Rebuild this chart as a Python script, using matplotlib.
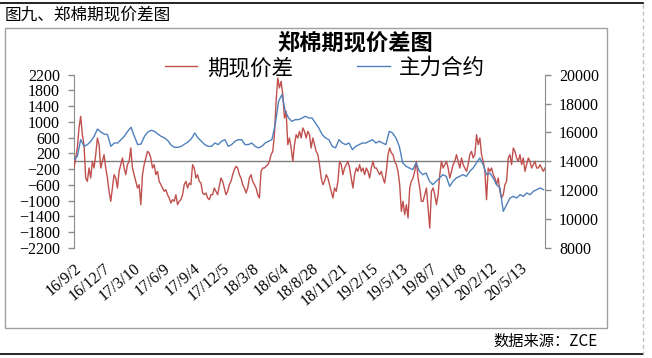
import numpy as np
import matplotlib
matplotlib.use('Agg')
from matplotlib import pyplot as plt
from matplotlib.lines import Line2D
from matplotlib.patches import Rectangle

plt.rcParams['font.family'] = ['Noto Sans CJK SC', 'DejaVu Sans']

# 期现价差 (left axis)
spread = [
    -169, 85, 339, 847, 1143, 677, 424, -423, -507, -169, -423, 0, -169, 170, 593, 424,
    -169, 0, 170, -169, -423, -761, -1015, -677, -338, -423, -677, -254, -84, 85, -169,
    -338, -84, 0, 339, -169, -338, -507, -677, -592, -1100, -338, -84, 85, 254, 212, 85,
    -169, -84, -338, -254, -507, -592, -677, -761, -719, -846, -931, -1058, -973, -1015,
    -846, -1100, -1015, -973, -846, -592, -507, -677, -550, -592, -84, -169, -423, -338,
    -507, -550, -804, -846, -804, -931, -973, -846, -846, -677, -761, -846, -634, -423,
    -507, -677, -846, -761, -592, -507, -338, -211, -127, -169, -338, -423, -592, -677,
    -804, -677, -423, -338, -507, -592, -677, -846, -931, -254, -169, -169, -127, -84, 0,
    170, 254, 677, 1524, 2116, 1862, 2031, 1693, 1101, 1270, 424, 593, 339, 0, 424, 677,
    593, 762, 593, 847, 762,
    593, 762, 677, 339, 593, 424, 254, 170, -84, -423, -592, -507, -338, -423, -592, -761,
    -931, -677, -761, -507, 0, -84, -338, -169, -84, 0, -169, -423, -677, -338, -169, -254,
    -84, -254, -169, -338, -169, -254, -423, -169, 0, -169, -169, -254, -338, -254, -423,
    -550, -254, 170, 339, 212, 170, 0, -84, -254, -592, -1269, -1015, -1354, -1100, -1438,
    -677, -507, -423, -254, 0, -423, -677, -1015, -1015, -846, -677, -1184, -1692, -761,
    -677, -846, -1100, -846, -338, 0, -169, -84, 0, -169, -423, -254, -84, 0, 170, 0, -169,
    85, -84, -169, -254, -84, 170, 254, 85, 170, 677, 424, 593, 170, 0, -254, -973, -169,
    -254, -169, -338, -423, -592, -423, -761, -931, -846, -592, -507, 85, 170, -84, 339,
    254, 85, 0, 170, -84, 85, -254, -84, 85, 0, -169, -84, 0, -169, -169, -84, -169, -254,
    -169,
]

# 主力合约 (right axis)
futures = [
    14120, 14350, 15500, 15040, 15160, 15390, 15730, 16240, 16030, 15890, 15850, 15040,
    15270, 15270, 15500, 15730, 16080, 16360, 15730, 15160, 15200, 15730, 16030, 16150,
    16080, 15890, 15730, 15620, 15430, 15110, 14970, 14970, 15040, 15200, 15340, 15570,
    15960, 15620, 15390, 15160, 15040, 15040, 15270, 15160, 15390, 15500, 15040, 15160,
    15390, 15500, 15500, 15160, 15160, 15270, 15040, 14930, 15040, 15270, 15390, 15500,
    16540, 18160, 18620, 17460, 17000, 16770, 16890, 16890, 17000,
    17120, 17000, 17000, 16660, 16310, 15850, 15620, 15500, 15040, 14930, 15500, 15270,
    15160, 15270, 14810, 15040, 15160, 15270, 15270, 15390, 15500, 15270, 15390, 15270,
    15160, 16080, 15960, 15620, 15040, 13890, 13660, 13540, 13430, 13890, 13310, 13080,
    13190, 12620, 12390, 12620, 12850, 13080, 12960, 12270, 12620, 12850, 12960, 13080,
    12960, 13310, 13540, 13890, 14230, 13770, 13080, 13190, 12850, 12390, 12160, 10540,
    11000, 11460, 11580, 11460, 11690, 11580, 11810, 11690, 11930, 12040, 12160, 12040,
]

date_labels = ['16/9/2', '16/12/7', '17/3/10', '17/6/9', '17/9/4', '17/12/5',
               '18/3/8', '18/6/4', '18/8/28', '18/11/21', '19/2/15', '19/5/13',
               '19/8/7', '19/11/8', '20/2/12', '20/5/13']
label_step = 60  # trading days between date labels
n_days = 952

left_ticks = np.arange(-2200, 2201, 400)
right_ticks = np.arange(8000, 20001, 2000)

red = '#C0504D'
blue = '#4F81BD'
grey = '#8c8c8c'
tick_font = dict(family='Liberation Serif', size=11.5)

W, H = 652, 358
fig = plt.figure(figsize=(W / 100, H / 100), dpi=100)

ax = fig.add_axes([74 / W, 1 - 248 / H, 471 / W, 173.3 / H])
ax2 = ax.twinx()

x_spread = np.linspace(0, n_days - 1, len(spread))
x_fut = np.linspace(0, n_days - 4, len(futures))

ax.axhline(0, color='#7f7f7f', lw=1.0, zorder=1)
l1, = ax.plot(x_spread, spread, color=red, lw=1.0, label='期现价差', zorder=3)
l2, = ax2.plot(x_fut, futures, color=blue, lw=1.0, label='主力合约', zorder=3)

ax.set_xlim(0, n_days - 1)
ax.set_ylim(-2200, 2200)
ax2.set_ylim(8000, 20000)
ax.set_yticks(left_ticks)
ax2.set_yticks(right_ticks)
ax.set_xticks(np.arange(len(date_labels)) * label_step)
ax.set_xticklabels(date_labels, rotation=40, ha='right', va='top',
                   rotation_mode='anchor', fontdict=tick_font)
for lab in ax.get_yticklabels() + ax2.get_yticklabels():
    lab.set_fontproperties(tick_font)

for a in (ax, ax2):
    for s in a.spines.values():
        s.set_visible(False)
ax.spines['left'].set_visible(True)
ax.spines['left'].set_color(grey)
ax2.spines['right'].set_visible(True)
ax2.spines['right'].set_color(grey)
ax.tick_params(axis='y', length=4, width=1, color=grey, pad=6)
ax2.tick_params(axis='y', length=4, width=1, color=grey, pad=6)
ax.tick_params(axis='x', length=0, pad=9)

fig.text(355 / W, 1 - 43 / H, '郑棉期现价差图', ha='center', va='center',
         fontsize=16, fontweight='bold')
fig.legend(handles=[l1, l2], loc='center', bbox_to_anchor=(325 / W, 1 - 68 / H),
           ncol=2, frameon=False, fontsize=15.5, handlelength=1.5,
           handletextpad=0.45, columnspacing=3.0, borderaxespad=0, borderpad=0)

# frame around the chart, like the report page
fig.add_artist(Line2D([0, 643 / W], [1 - 3 / H] * 2, color='black', lw=1.2))
fig.add_artist(Line2D([0, 643 / W], [1 - 354 / H] * 2, color='black', lw=1.2))
fig.add_artist(Line2D([643 / W] * 2, [1 - 4 / H, 1 - 354 / H], color='#c0c0c0',
                      lw=1, ls=(0, (3, 2))))
fig.add_artist(Rectangle((5 / W, 1 - 328 / H), 602 / W, 300 / H, fill=False,
                         edgecolor='#a0a0a0', lw=1))
fig.text(5 / W, 1 - 15 / H, '图九、郑棉期现价差图', ha='left', va='center', fontsize=12)
fig.text(598 / W, 1 - 341 / H, '数据来源：ZCE', ha='right', va='center', fontsize=11)

fig.savefig('out.png', dpi=100)
